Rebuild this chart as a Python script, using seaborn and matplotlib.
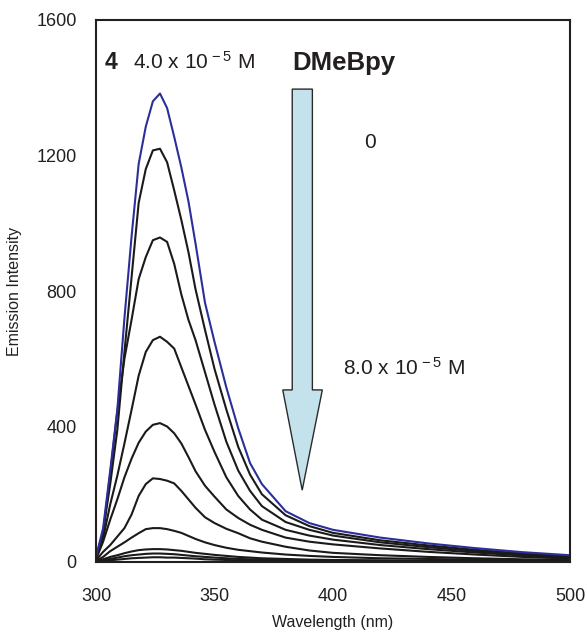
import numpy as np
import pandas as pd
import matplotlib
matplotlib.use("Agg")
import matplotlib.pyplot as plt
from matplotlib.patches import Polygon
import seaborn as sns

# ---- data ----
wavelength = [300, 303, 306, 309, 312, 315, 318, 321, 324, 327, 330, 333, 336, 339, 342,
              346, 350, 355, 360, 365, 370, 380, 390, 400, 420, 440, 460, 480, 500]

s0 = [15, 100, 270, 450, 720, 960, 1175, 1285, 1360, 1383, 1340, 1255, 1165, 1065, 940,
      765, 650, 515, 395, 292, 230, 150, 115, 95, 72, 55, 41, 29, 20]
s1 = [12, 90, 230, 390, 620, 840, 1060, 1160, 1215, 1220, 1180, 1097, 1010, 915, 805,
      685, 570, 450, 340, 258, 200, 138, 106, 86, 64, 49, 36, 25, 17]
s2 = [10, 85, 260, 445, 600, 715, 835, 900, 950, 958, 945, 880, 790, 715, 655,
      560, 465, 355, 270, 210, 165, 118, 95, 78, 58, 44, 32, 22, 15]
s3 = [10, 70, 170, 255, 350, 449, 550, 620, 655, 665, 650, 630, 575, 520, 465,
      390, 325, 250, 195, 155, 125, 95, 78, 66, 50, 38, 28, 19, 13]
s4 = [8, 60, 125, 185, 250, 305, 352, 385, 405, 410, 400, 380, 350, 310, 268,
      225, 193, 155, 130, 110, 95, 72, 60, 52, 40, 30, 22, 15, 10]
s5 = [5, 30, 50, 75, 100, 140, 195, 230, 247, 245, 240, 232, 210, 185, 160,
      132, 115, 98, 85, 70, 60, 45, 34, 27, 20, 15, 11, 8, 6]
s6 = [3, 15, 32, 45, 58, 72, 85, 97, 100, 100, 97, 92, 86, 77, 68,
      58, 50, 42, 36, 32, 28, 22, 18, 15, 11, 9, 7, 5, 4]
s7 = [2, 8, 15, 20, 26, 31, 35, 37, 38, 38, 37, 35, 33, 30, 27,
      24, 21, 18, 15, 13, 11, 9, 7, 6, 5, 4, 3, 2, 2]
s8 = [1, 5, 9, 13, 17, 20, 22, 24, 25, 25, 24, 23, 21, 19, 17,
      15, 13, 11, 9, 8, 7, 5, 4, 4, 3, 2, 2, 2, 1]
s9 = [1, 3, 5, 7, 9, 11, 12, 13, 14, 14, 13, 13, 12, 11, 10,
      8, 7, 6, 5, 4, 4, 3, 3, 2, 2, 1, 1, 1, 1]

series = [s0, s1, s2, s3, s4, s5, s6, s7, s8, s9]
series_names = ["0", "c1", "c2", "c3", "c4", "c5", "c6", "c7", "c8", "8.0e-5"]

x_ticks = [300, 350, 400, 450, 500]
y_ticks = [0, 400, 800, 1200, 1600]

# ---- styling ----
sns.set_theme(style="white")
plt.rcParams["font.family"] = ["Liberation Sans", "DejaVu Sans"]
plt.rcParams["mathtext.fontset"] = "custom"
plt.rcParams["mathtext.rm"] = "Liberation Sans"
plt.rcParams["mathtext.it"] = "Liberation Sans"

fig = plt.figure(figsize=(5.87, 6.35), dpi=100)
ax = fig.add_axes([96 / 587, 1 - 562 / 635, (570 - 96) / 587, (562 - 20) / 635])

rows = []
for name, vals in zip(series_names, series):
    for w, v in zip(wavelength, vals):
        rows.append({"wl": w, "I": v, "series": name})
df = pd.DataFrame(rows)

colors = {n: "#1a1a1a" for n in series_names}
colors["0"] = "#2b2f9a"
order = series_names[::-1]  # draw blue last (on top)
for name in order:
    sub = df[df["series"] == name]
    sns.lineplot(data=sub, x="wl", y="I", color=colors[name], linewidth=1.5,
                 estimator=None, sort=False, ax=ax, legend=False)

ax.set_xlim(300, 500)
ax.set_ylim(0, 1600)
ax.set_xticks(x_ticks)
ax.set_yticks(y_ticks)
ax.set_xticklabels([str(t) for t in x_ticks])
ax.set_yticklabels([str(t) for t in y_ticks])
ax.tick_params(axis="x", length=0, pad=19, labelsize=13, colors="#231f20")
ax.tick_params(axis="y", direction="in", length=4, width=0.8, pad=14, labelsize=13,
               colors="#231f20")
ax.tick_params(axis="y", labelcolor="#231f20", color="#999999")
for sp in ax.spines.values():
    sp.set_color("#231f20")
    sp.set_linewidth(1.5)

ax.set_xlabel("Wavelength (nm)", fontsize=11.5, color="#231f20", labelpad=7)
ax.set_ylabel("Emission Intensity", fontsize=11.5, color="#231f20", labelpad=10)

# arrow
arrow = Polygon([(382.8, 1396), (391.3, 1396), (391.3, 508), (395.5, 508), (387.0, 212),
                 (378.8, 508), (382.8, 508)], closed=True,
                facecolor="#c4e2ec", edgecolor="#2a2a2a", linewidth=1.0, zorder=3)
ax.add_patch(arrow)

ax.text(306.3, 1476, "4", fontsize=16.5, fontweight="bold", ha="center", va="center",
        color="#231f20")
ax.text(315.7, 1476, r"4.0 x 10$^{\,-5}$ M", fontsize=15, ha="left", va="center",
        color="#231f20")
ax.text(382.8, 1472, "DMeBpy", fontsize=18.5, fontweight="bold", ha="left", va="center",
        color="#231f20")
ax.text(415.6, 1237, "0", fontsize=15, ha="center", va="center", color="#231f20")
ax.text(404.2, 573, r"8.0 x 10$^{\,-5}$ M", fontsize=15, ha="left", va="center",
        color="#231f20")

fig.savefig("out.png", dpi=100)
